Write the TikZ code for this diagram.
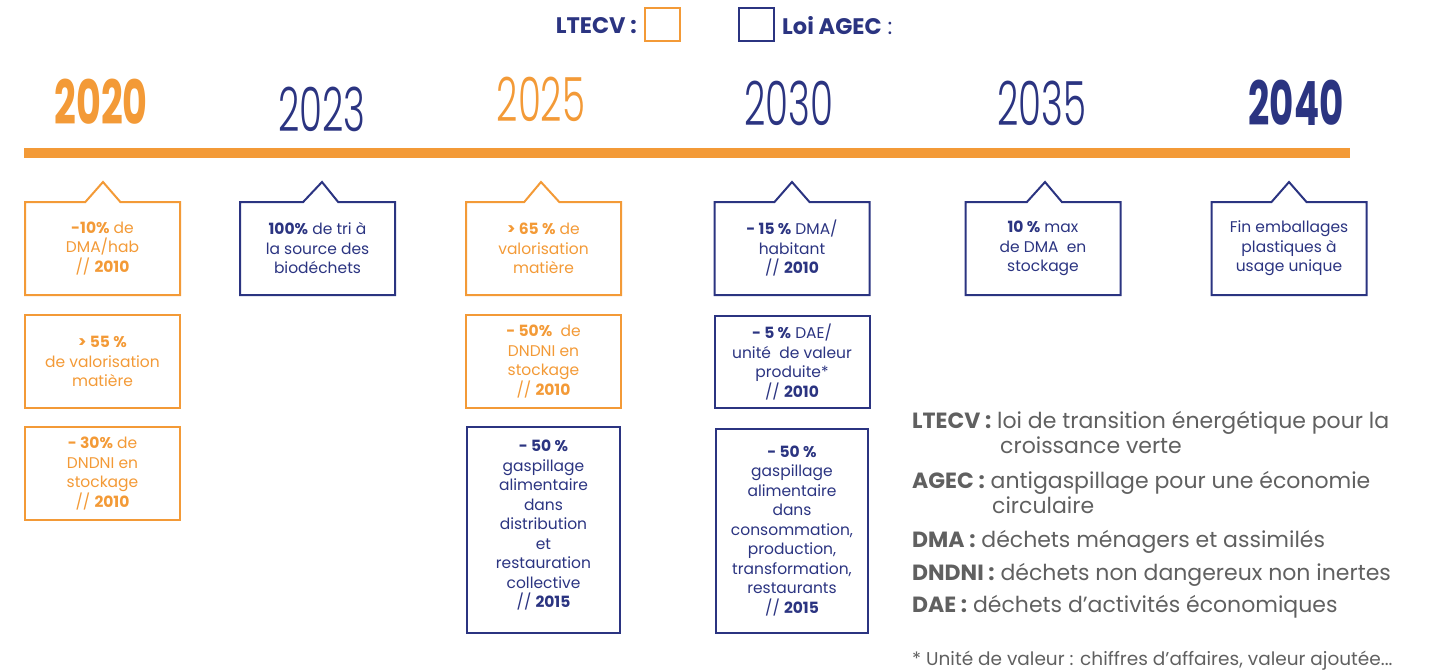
\documentclass[tikz,border=0pt]{standalone}
\usepackage{fontspec}
\setmainfont{Poppins}
\newfontfamily\yearthin{Poppins Light}
\usepackage{graphicx}
\usepackage{xcolor}
\usepackage{tikz}
\usetikzlibrary{shapes.callouts, positioning}

\definecolor{orangeLT}{HTML}{F39A37}
\definecolor{navyAG}{HTML}{2B3481}
\definecolor{greytxt}{HTML}{606060}

\newcommand{\yr}[1]{\scalebox{0.61}[1]{#1}}

\begin{document}
\begin{tikzpicture}[x=1pt, y=-1pt,
		goal/.style={rectangle callout, draw, line width=2pt, minimum width=155pt, minimum height=93pt,
			callout pointer width=35pt, align=center, inner sep=2pt,
			font=\fontsize{15.5}{19.5}\selectfont},
		plainbox/.style={rectangle, draw, line width=2pt, minimum width=155pt, minimum height=93pt,
			align=center, inner sep=2pt, font=\fontsize{15.5}{19.5}\selectfont},
		lt/.style={draw=orangeLT, text=orangeLT},
		ag/.style={draw=navyAG, text=navyAG},
		year/.style={inner sep=0pt},
		keybox/.style={draw, line width=2pt, minimum width=35pt, minimum height=33pt, inner sep=0pt},
		defn/.style={anchor=base west, inner sep=0pt, text=greytxt, font=\fontsize{22}{25}\selectfont}
		]
	
		\useasboundingbox (0,0) rectangle (1430,672);
	
		% key
		\node[anchor=east, inner sep=0pt, text=navyAG, font=\fontsize{22.5}{25}\selectfont\bfseries] (kLT) at (637,26) {LTECV :};
		\node[keybox, draw=orangeLT] (keyLT) at (662.5,24.5) {};
		\node[keybox, draw=navyAG] (keyAG) at (756.5,24.5) {};
		\node[anchor=west, inner sep=0pt, text=navyAG, font=\fontsize{22.5}{25}\selectfont] (kAG) at (782,26) {\textbf{Loi AGEC} :};
	
		% years
		\node[year, text=orangeLT, font=\fontsize{61}{61}\selectfont\bfseries] (y2020) at (101,102) {\scalebox{0.625}[1]{2020}};
		\node[year, text=navyAG, font=\fontsize{61}{61}\yearthin] (y2023) at (322,109) {\yr{2023}};
		\node[year, text=orangeLT, font=\fontsize{61}{61}\yearthin] (y2025) at (541,99) {\yr{2025}};
		\node[year, text=navyAG, font=\fontsize{61}{61}\yearthin] (y2030) at (789,103) {\yr{2030}};
		\node[year, text=navyAG, font=\fontsize{61}{61}\yearthin] (y2035) at (1042,103) {\yr{2035}};
		\node[year, text=navyAG, font=\fontsize{61}{61}\selectfont\bfseries] (y2040) at (1296,102.5) {\scalebox{0.61}[1]{2040}};
	
		\coordinate (tlA) at (24,153);
		\coordinate (tlB) at (1350,153);
		\draw[orangeLT, line width=10pt] (tlA) -- (tlB);
	
		% first row
		\node[goal, lt, callout absolute pointer={(103,182)}] (g20a) at (102.5,248.5) {\textbf{-10\%} de\\DMA/hab\\// \textbf{2010}};
		\node[goal, ag, callout absolute pointer={(322,182)}] (g23a) at (317.5,248.5) {\textbf{100\%} de tri à\\la source des\\biodéchets};
		\node[goal, lt, callout absolute pointer={(541,182)}] (g25a) at (543.5,248.5) {\textbf{> 65 \%} de\\valorisation\\matière};
		\node[goal, ag, callout absolute pointer={(792,182)}] (g30a) at (792,248.5) {\textbf{- 15 \%} DMA/\\habitant\\// \textbf{2010}};
		\node[goal, ag, callout absolute pointer={(1045,182)}] (g35a) at (1043,248.5) {\textbf{10 \%} max\\de DMA~ en\\stockage};
		\node[goal, ag, callout absolute pointer={(1289,182)}] (g40a) at (1289,248.5) {Fin emballages\\plastiques à\\usage unique};
	
		% second row
		\node[plainbox, lt] (g20b) at (102.5,361.5) {\textbf{> 55 \%}\\de valorisation\\matière};
		\node[plainbox, lt] (g25b) at (543.5,361.5) {\textbf{- 50\%}~ de\\DNDNI en\\stockage\\// \textbf{2010}};
		\node[plainbox, ag, minimum height=92pt] (g30b) at (792,362) {\textbf{- 5 \%} DAE/\\unité~ de valeur\\produite*\\// \textbf{2010}};
	
		% third row
		\node[plainbox, lt] (g20c) at (102.5,473.5) {\textbf{- 30\%} de\\DNDNI en\\stockage\\// \textbf{2010}};
		\node[plainbox, ag, minimum width=153pt, minimum height=206pt] (g25c) at (543.5,530) {\textbf{- 50 \%}\\gaspillage\\alimentaire\\dans\\distribution\\et\\restauration\\collective\\// \textbf{2015}\\[-7pt]};
		\node[plainbox, ag, minimum width=152pt, minimum height=204pt] (g30c) at (792,531) {\textbf{- 50 \%}\\gaspillage\\alimentaire\\dans\\consommation,\\production,\\transformation,\\restaurants\\// \textbf{2015}};
	
		% abbreviations
		\node[defn] (dLT) at (912,428) {\textbf{LTECV :} loi de transition énergétique pour la};
		\node[defn] (dLT2) at (1000,453) {croissance verte};
		\node[defn] (dAG) at (912,488) {\textbf{AGEC :} antigaspillage pour une économie};
		\node[defn] (dAG2) at (992,513) {circulaire};
		\node[defn] (dDMA) at (912,547) {\textbf{DMA :} déchets ménagers et assimilés};
		\node[defn] (dDN) at (912,580) {\textbf{DNDNI :} déchets non dangereux non inertes};
		\node[defn] (dDAE) at (912,612) {\textbf{DAE :} déchets d’activités économiques};
		\node[defn, font=\fontsize{18.5}{20}\selectfont] (note) at (912,665) {* Unité de valeur : chiffres d’affaires, valeur ajoutée...};
	
	\end{tikzpicture}
\end{document}
